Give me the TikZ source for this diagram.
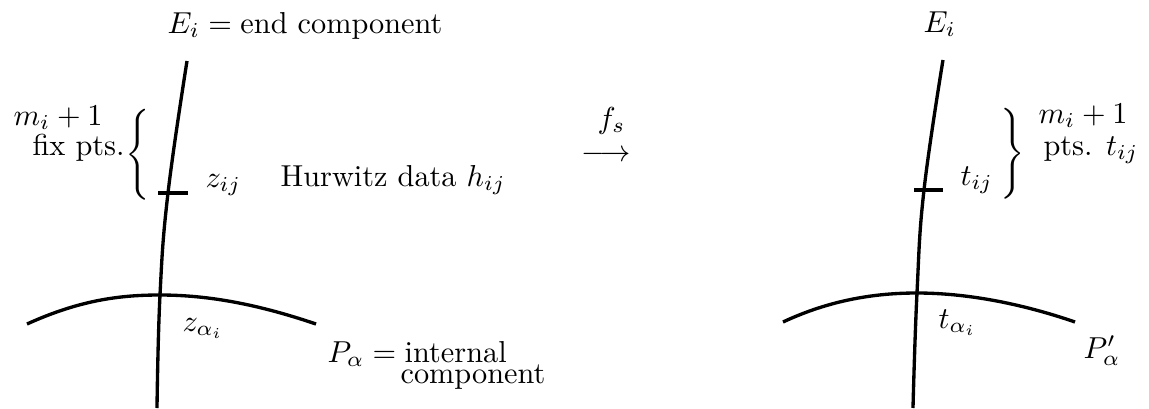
\documentclass[tikz,border=0pt]{standalone}
\usepackage{amsmath}
\begin{document}
\begin{tikzpicture}[x=0.33pt,y=-0.33pt,
  curve/.style={line width=1.1pt},
  lbl/.style={inner sep=0pt,anchor=base west},
  brc/.style={inner sep=0pt}]
\useasboundingbox (0,0) rectangle (1149,408);
% ---------- left picture ----------
\draw[curve] plot[smooth,tension=0.7] coordinates {(187,61) (168,193) (160,295) (157,408)};
\coordinate (tla) at (158,193);
\coordinate (tlb) at (188,193);
\draw[curve] (tla) -- (tlb);
\draw[curve] (27,324) .. controls (80,300) and (120,295) .. (160,295)
                      .. controls (210,295) and (260,305) .. (316,324);
\node[lbl] (Eleft) at (167,33) {$E_i = \text{end component}$};
\node[lbl] (mleft) at (13,125) {$m_i+1$};
\node[lbl] (fixl) at (32,155) {fix pts.};
\node[brc] (bl) at (140,154.5) {$\left\{\vrule height 18.5pt depth 13.5pt width 0pt\right.$};
\node[lbl] (zij) at (205,187) {$z_{ij}$};
\node[lbl] (hur) at (280,186) {Hurwitz data $h_{ij}$};
\node[lbl] (za) at (182,331) {$z_{\alpha_i}$};
\node[lbl,text depth=0pt] (Pa) at (327,362) {$P_\alpha = \text{internal}$};
\node[lbl,text height=4.6pt] (comp) at (400,383) {component};
% ---------- map ----------
\node[lbl,text depth=0pt] (fs) at (597,128) {$f_s$};
\node[inner sep=0pt,anchor=base] (arr) at (606,161.5) {$\longrightarrow$};
% ---------- right picture ----------
\draw[curve] plot[smooth,tension=0.7] coordinates {(943,60) (924,190) (917,293) (913,408)};
\coordinate (tra) at (914,190);
\coordinate (trb) at (943,190);
\draw[curve] (tra) -- (trb);
\draw[curve] (783,322) .. controls (830,300) and (875,293) .. (917,293)
                       .. controls (965,293) and (1020,303) .. (1075,322);
\node[lbl] (Eright) at (923,32) {$E_i$};
\node[lbl] (tij) at (960,185) {$t_{ij}$};
\node[brc] (br) at (1011,153.5) {$\left.\vrule height 18.5pt depth 13.5pt width 0pt\right\}$};
\node[lbl] (mright) at (1038,123) {$m_i+1$};
\node[lbl] (ptsr) at (1043,155) {pts. $t_{ij}$};
\node[lbl] (ta) at (938,328) {$t_{\alpha_i}$};
\node[lbl] (Pp) at (1083,358) {$P'_\alpha$};
\end{tikzpicture}
\end{document}
